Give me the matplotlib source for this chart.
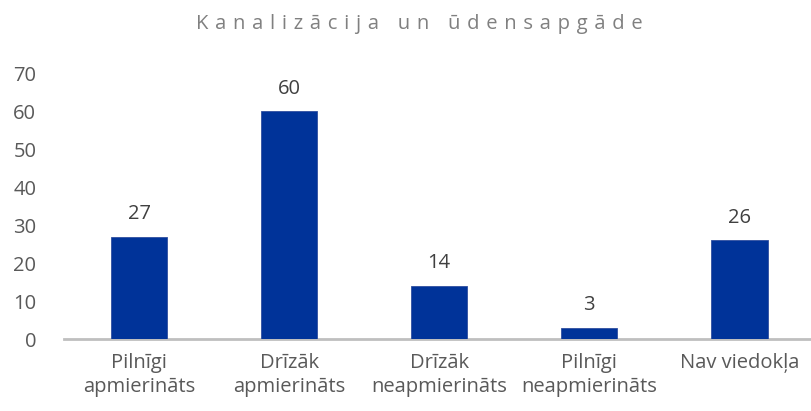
import matplotlib.pyplot as plt
import numpy as np

plt.rcParams['font.family'] = ['Open Sans', 'DejaVu Sans']

categories = ['Pilnīgi\napmierināts', 'Drīzāk\napmierināts', 'Drīzāk\nneapmierināts',
              'Pilnīgi\nneapmierināts', 'Nav viedokļa']
values = [27, 60, 14, 3, 26]
title = 'Kanalizācija un ūdensapgāde'

bar_color = '#003399'

fig = plt.figure(figsize=(8.11, 4.11), dpi=100)
ax = fig.add_axes([0.079, 0.175, 0.925, 0.647])

x = np.arange(len(categories))
bars = ax.bar(x, values, width=0.377, color=bar_color, edgecolor='#2f4f9f', linewidth=0.6, zorder=3)

for b, v in zip(bars, values):
    ax.annotate(str(v), (b.get_x() + b.get_width() / 2, v), xytext=(0, 9),
                textcoords='offset points', ha='center', va='bottom',
                fontsize=14.5, color='#404040')

ax.set_xlim(-0.5, 4.5)
ax.set_ylim(0, 70)
ax.set_yticks(range(0, 71, 10))
ax.set_xticks(x)
ax.set_xticklabels(categories, fontsize=14.5, color='#595959', linespacing=1.3)
ax.tick_params(axis='y', labelsize=14.5, labelcolor='#595959', length=0, pad=20)
ax.tick_params(axis='x', length=0, pad=10)

for s in ['top', 'right', 'left']:
    ax.spines[s].set_visible(False)
ax.spines['bottom'].set_color('#bfbfbf')
ax.spines['bottom'].set_linewidth(2)

# letter-spaced title
spaced = '\u2004'.join(title)
fig.text(0.517, 0.942, spaced, ha='center', va='center', fontsize=14.5, color='#808080')

fig.savefig('out.png', dpi=100)
